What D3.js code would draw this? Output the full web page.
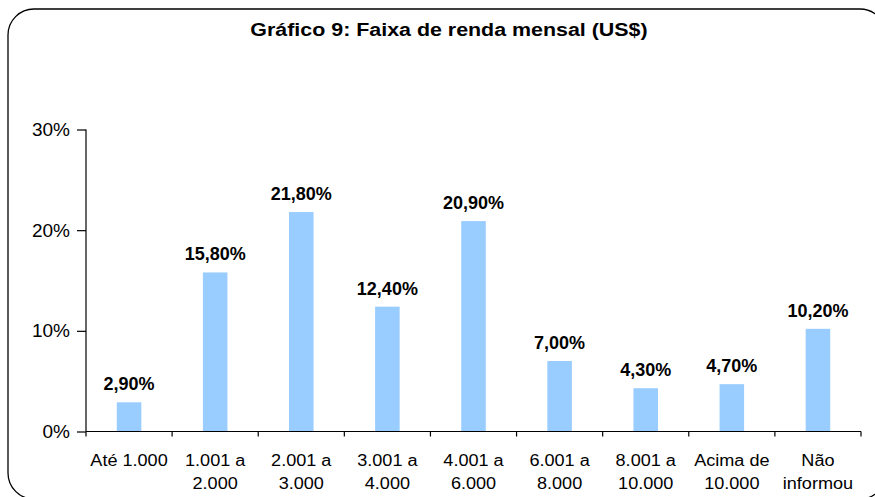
<!DOCTYPE html>
<html>
<head>
<meta charset="utf-8">
<script src="https://cdn.jsdelivr.net/npm/d3@7/dist/d3.min.js"></script>
<style>
  body { margin: 0; background: #fff; }
  svg { display: block; font-family: "Liberation Sans", Arial, sans-serif; }
</style>
</head>
<body>
<div id="chart"></div>
<script>
// data
var categories = [["Até 1.000"], ["1.001 a", "2.000"], ["2.001 a", "3.000"], ["3.001 a", "4.000"],
                  ["4.001 a", "6.000"], ["6.001 a", "8.000"], ["8.001 a", "10.000"],
                  ["Acima de", "10.000"], ["Não", "informou"]];
var values = [2.9, 15.8, 21.8, 12.4, 20.9, 7.0, 4.3, 4.7, 10.2];
var yTicks = [0, 10, 20, 30];
var title = "Gráfico 9: Faixa de renda mensal (US$)";

var width = 875, height = 497;
var margin = {left: 86, right: 14, top: 129.5, bottom: 65.5};

var svg = d3.select("#chart").append("svg").attr("width", width).attr("height", height);

// frame
svg.append("rect")
   .attr("x", 8).attr("y", 9).attr("width", 878).attr("height", 490)
   .attr("rx", 26).attr("ry", 26)
   .attr("fill", "none").attr("stroke", "#000").attr("stroke-width", 1.3);

// the source text is a bit wider than the font, so stretch it sideways
var titleScale = 1.19;
svg.append("text")
   .attr("transform", "scale(" + titleScale + ",1)")
   .attr("x", 449 / titleScale).attr("y", 36)
   .attr("text-anchor", "middle")
   .attr("font-size", 18).attr("font-weight", "bold")
   .text(title);

var x = d3.scaleBand()
    .domain(d3.range(categories.length))
    .range([margin.left, width - margin.right])
    .paddingInner(0.715).paddingOuter(0.3575);

var y = d3.scaleLinear().domain([0, 30]).range([height - margin.bottom, margin.top]);

// bars
svg.selectAll("rect.bar").data(values)
   .enter().append("rect")
   .attr("class", "bar")
   .attr("x", function(d, i) { return x(i); })
   .attr("y", function(d) { return y(d); })
   .attr("width", x.bandwidth())
   .attr("height", function(d) { return y(0) - y(d); })
   .attr("fill", "#99ccff");

// value labels
svg.selectAll("text.val").data(values)
   .enter().append("text")
   .attr("class", "val")
   .attr("x", function(d, i) { return x(i) + x.bandwidth() / 2; })
   .attr("y", function(d) { return y(d) - 12; })
   .attr("text-anchor", "middle")
   .attr("font-size", 18).attr("font-weight", "bold")
   .text(function(d) { return d.toFixed(2).replace(".", ",") + "%"; });

// y axis
var yAxis = svg.append("g")
    .attr("transform", "translate(" + margin.left + ",0)")
    .call(d3.axisLeft(y).tickValues(yTicks).tickSize(9).tickPadding(7)
           .tickFormat(function(d) { return d + "%"; }));
yAxis.selectAll("text").attr("font-size", 19).attr("fill", "#000").attr("font-family", null);
yAxis.selectAll("line, path").attr("stroke", "#000").attr("stroke-width", 1.2);
yAxis.select("path").attr("d", "M0," + y(30) + "V" + y(0));

// x axis with ticks between categories
var step = x.step();
var bounds = d3.range(categories.length + 1).map(function(i) { return margin.left + i * step; });
var xAxis = svg.append("g");
xAxis.append("line")
   .attr("x1", margin.left).attr("x2", bounds[bounds.length - 1])
   .attr("y1", y(0)).attr("y2", y(0))
   .attr("stroke", "#000").attr("stroke-width", 1.2);
xAxis.selectAll("line.tk").data(bounds)
   .enter().append("line")
   .attr("class", "tk")
   .attr("x1", function(d) { return d; }).attr("x2", function(d) { return d; })
   .attr("y1", y(0)).attr("y2", y(0) + 5)
   .attr("stroke", "#000").attr("stroke-width", 1.2);

var catScale = 1.13;
var lbl = xAxis.selectAll("text.cat").data(categories)
   .enter().append("text")
   .attr("class", "cat")
   .attr("transform", "scale(" + catScale + ",1)")
   .attr("text-anchor", "middle")
   .attr("font-size", 16);
lbl.selectAll("tspan").data(function(d, i) { return d.map(function(s) { return {s: s, i: i}; }); })
   .enter().append("tspan")
   .attr("x", function(d) { return (x(d.i) + x.bandwidth() / 2) / catScale; })
   .attr("y", function(d, j) { return y(0) + 35 + j * 23; })
   .text(function(d) { return d.s; });
</script>
</body>
</html>
